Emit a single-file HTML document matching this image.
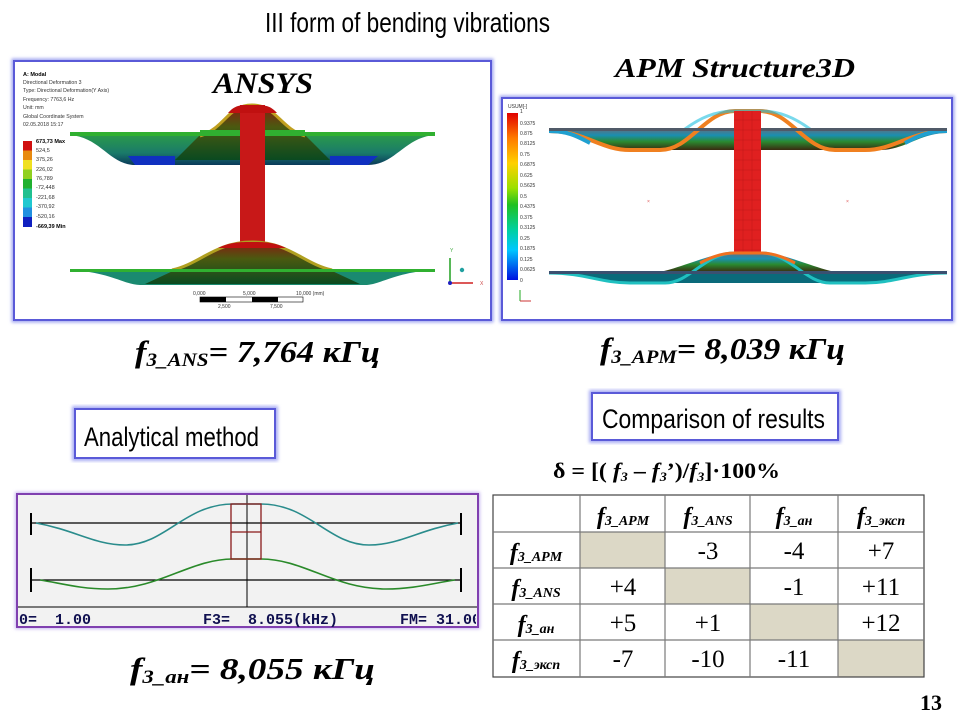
<!DOCTYPE html>
<html><head><meta charset="utf-8"><style>
html,body{margin:0;padding:0;background:#fff;}
svg{display:block;}
.s{font-family:"Liberation Serif",serif;}
.a{font-family:"Liberation Sans",sans-serif;}
.m{font-family:"Liberation Mono",monospace;font-weight:bold;}
</style></head><body>
<svg width="960" height="720" viewBox="0 0 960 720" xmlns="http://www.w3.org/2000/svg">
<defs>
<linearGradient id="apmleg" x1="0" y1="0" x2="0" y2="1">
<stop offset="0" stop-color="#e00000"/><stop offset="0.15" stop-color="#ff7a00"/><stop offset="0.3" stop-color="#ffd000"/><stop offset="0.45" stop-color="#9be000"/><stop offset="0.55" stop-color="#20c020"/><stop offset="0.7" stop-color="#00d0a0"/><stop offset="0.82" stop-color="#00c8ff"/><stop offset="1" stop-color="#0010e0"/></linearGradient>
<linearGradient id="plateG" x1="0" y1="0" x2="0" y2="1"><stop offset="0" stop-color="#2a9a4a"/><stop offset="0.6" stop-color="#1a7a6a"/><stop offset="1" stop-color="#0a3a5a"/></linearGradient>
<linearGradient id="humpG" x1="0" y1="0" x2="0" y2="1"><stop offset="0" stop-color="#8a1a10"/><stop offset="0.4" stop-color="#4a5a10"/><stop offset="1" stop-color="#0a4a20"/></linearGradient>
<linearGradient id="apmPl" x1="0" y1="0" x2="0" y2="1"><stop offset="0" stop-color="#607080"/><stop offset="0.3" stop-color="#1a8fb0"/><stop offset="0.6" stop-color="#2a8a30"/><stop offset="1" stop-color="#3a2a10"/></linearGradient>
<filter id="glow"><feGaussianBlur stdDeviation="1.5"/></filter>
</defs>

<!-- Title -->
<text x="265" y="32" class="a" font-size="28" textLength="285" lengthAdjust="spacingAndGlyphs" fill="#000">III form of bending vibrations</text>

<!-- ANSYS panel -->
<rect x="14" y="61" width="477" height="259" fill="#fff" stroke="#9fa4f0" stroke-width="5" filter="url(#glow)"/>
<rect x="14" y="61" width="477" height="259" fill="#fff" stroke="#5a5ad8" stroke-width="2"/>
<text x="23" y="76" class="a" font-size="5.5" font-weight="bold">A: Modal</text>
<text class="a" font-size="5.2" fill="#333"><tspan x="23" y="84">Directional Deformation 3</tspan><tspan x="23" y="92">Type: Directional Deformation(Y Axis)</tspan><tspan x="23" y="101">Frequency: 7763,6 Hz</tspan><tspan x="23" y="109">Unit: mm</tspan><tspan x="23" y="118">Global Coordinate System</tspan><tspan x="23" y="126">02.05.2018 15:17</tspan></text>
<g>
<rect x="23" y="141" width="9" height="9.5" fill="#d01010"/><rect x="23" y="150.5" width="9" height="9.5" fill="#e88a10"/><rect x="23" y="160" width="9" height="9.5" fill="#f0e020"/><rect x="23" y="169.5" width="9" height="9.5" fill="#90d020"/><rect x="23" y="179" width="9" height="9.5" fill="#20b030"/><rect x="23" y="188.5" width="9" height="9.5" fill="#20c090"/><rect x="23" y="198" width="9" height="9.5" fill="#20c8d0"/><rect x="23" y="207.5" width="9" height="9.5" fill="#2090e0"/><rect x="23" y="217" width="9" height="10" fill="#1020c0"/>
</g>
<text class="a" font-size="5.5" fill="#333"><tspan x="36" y="143" font-weight="bold" fill="#000">673,73 Max</tspan><tspan x="36" y="152">524,5</tspan><tspan x="36" y="161">375,26</tspan><tspan x="36" y="171">226,02</tspan><tspan x="36" y="180">76,789</tspan><tspan x="36" y="189">-72,448</tspan><tspan x="36" y="199">-221,68</tspan><tspan x="36" y="208">-370,92</tspan><tspan x="36" y="218">-520,16</tspan><tspan x="36" y="228" font-weight="bold" fill="#000">-669,39 Min</tspan></text>
<text x="213" y="93" class="s" font-size="30" font-weight="bold" font-style="italic" textLength="100" lengthAdjust="spacingAndGlyphs">ANSYS</text>
<!-- upper plate -->
<path d="M70,135 C100,137 110,165 135,165 L200,165 L300,165 L368,165 C395,165 405,137 435,135 Z" fill="url(#plateG)"/>
<path d="M128,156 L175,156 L175,165 L135,165 Z" fill="#1030c0"/><path d="M330,156 L378,156 L368,165 L330,165Z" fill="#1030c0"/>
<path d="M200,135 C225,130 228,105 252,105 C276,105 280,130 305,135 L330,160 L175,160 Z" fill="url(#humpG)"/>
<path d="M200,136 C225,128 228,105 252,105 C276,105 280,128 305,136" fill="none" stroke="#c0a020" stroke-width="3"/>
<rect x="70" y="132" width="365" height="4" fill="#30b030"/>
<path d="M200,132 L305,132" stroke="#30b030" stroke-width="4"/>
<rect x="240" y="105" width="25" height="140" fill="#c81818"/>
<path d="M228,113 C235,105 240,105 252,105 C264,105 270,105 277,113 Z" fill="#c01010"/>
<!-- lower plate -->
<path d="M70,270 C110,272 125,285 140,285 L365,285 C380,285 395,272 435,270 Z" fill="#1a8a70"/>
<path d="M175,270 C200,265 215,242 252,242 C289,242 304,265 330,270 L360,284 L145,284 Z" fill="url(#humpG)"/>
<path d="M172,270 C200,264 215,242 252,242 C289,242 304,264 332,270" fill="none" stroke="#b0a020" stroke-width="3"/>
<path d="M218,248 C230,242 240,242 252,242 C264,242 274,242 286,248 Z" fill="#c01010"/>
<rect x="70" y="269" width="365" height="3" fill="#30b030"/>
<!-- scale bar -->
<text class="a" font-size="5" fill="#333"><tspan x="193" y="295">0,000</tspan><tspan x="243" y="295">5,000</tspan><tspan x="296" y="295">10,000 (mm)</tspan><tspan x="218" y="308">2,500</tspan><tspan x="270" y="308">7,500</tspan></text>
<rect x="200" y="297" width="103" height="5" fill="#fff" stroke="#000" stroke-width="0.6"/>
<rect x="200" y="297" width="26" height="5" fill="#000"/><rect x="252" y="297" width="26" height="5" fill="#000"/>
<!-- triad -->
<line x1="450" y1="283" x2="450" y2="258" stroke="#20a020" stroke-width="1.5"/><line x1="450" y1="283" x2="473" y2="283" stroke="#d02020" stroke-width="1.5"/>
<circle cx="450" cy="283" r="2" fill="#2020c0"/><circle cx="462" cy="270" r="2.2" fill="#20a0a0"/>
<text x="450" y="252" class="a" font-size="5" fill="#4a4">Y</text><text x="480" y="285" class="a" font-size="5" fill="#c44">X</text>

<!-- APM title -->
<text x="615" y="77" class="s" font-size="27" font-weight="bold" font-style="italic" textLength="240" lengthAdjust="spacingAndGlyphs">APM Structure3D</text>
<!-- APM panel -->
<rect x="502" y="98" width="450" height="222" fill="#fff" stroke="#9fa4f0" stroke-width="5" filter="url(#glow)"/>
<rect x="502" y="98" width="450" height="222" fill="#fff" stroke="#5a5ad8" stroke-width="2"/>
<text x="508" y="108" class="a" font-size="5" fill="#333">USUM[-]</text>
<rect x="507" y="113" width="11" height="167" fill="url(#apmleg)"/>
<text class="a" font-size="5" fill="#333"><tspan x="520" y="113">1</tspan><tspan x="520" y="125">0.9375</tspan><tspan x="520" y="135">0.875</tspan><tspan x="520" y="145">0.8125</tspan><tspan x="520" y="156">0.75</tspan><tspan x="520" y="166">0.6875</tspan><tspan x="520" y="177">0.625</tspan><tspan x="520" y="187">0.5625</tspan><tspan x="520" y="198">0.5</tspan><tspan x="520" y="208">0.4375</tspan><tspan x="520" y="219">0.375</tspan><tspan x="520" y="229">0.3125</tspan><tspan x="520" y="240">0.25</tspan><tspan x="520" y="250">0.1875</tspan><tspan x="520" y="261">0.125</tspan><tspan x="520" y="271">0.0625</tspan><tspan x="520" y="282">0</tspan></text>
<line x1="520" y1="301" x2="520" y2="290" stroke="#2a2" stroke-width="1"/><line x1="520" y1="301" x2="531" y2="301" stroke="#c33" stroke-width="1"/>
<!-- APM upper plate -->
<path d="M549,129 L947,129 L947,133 C920,133 905,150 880,150 L630,150 C600,150 585,133 549,133 Z" fill="url(#apmPl)"/>
<path d="M549,131 C585,131 600,150 630,150 L660,150 C690,150 705,111 735,111 L760,111 C790,111 805,150 835,150 L865,150 C895,150 910,131 947,131" fill="none" stroke="#f08020" stroke-width="4"/>
<path d="M549,131 C570,131 580,138 590,143" fill="none" stroke="#20a0d0" stroke-width="4"/><path d="M905,143 C915,138 925,131 947,131" fill="none" stroke="#20a0d0" stroke-width="4"/>
<path d="M685,129 C700,118 715,111 735,111 L760,111 C780,111 795,118 810,129" fill="none" stroke="#20c0e0" stroke-width="3" opacity="0.6"/>
<rect x="549" y="128" width="398" height="3" fill="#505a68"/>
<rect x="734" y="111" width="27" height="145" fill="#e02020"/>
<g stroke="#a01010" stroke-width="0.4" opacity="0.6">
<path d="M743,111V256M752,111V256M734,120H761M734,130H761M734,140H761M734,150H761M734,160H761M734,170H761M734,180H761M734,190H761M734,200H761M734,210H761M734,220H761M734,230H761M734,240H761M734,250H761"/></g>
<rect x="734" y="256" width="27" height="16" fill="#909090"/>
<!-- APM lower plate -->
<path d="M549,272 L947,272 L947,274 C910,274 895,283 865,283 L630,283 C600,283 585,274 549,274 Z" fill="#0a6a7a"/>
<path d="M660,272 C690,265 710,253 734,253 L761,253 C785,253 805,265 835,272 Z" fill="url(#apmPl)"/>
<path d="M549,273 C585,273 600,283 630,283 L665,283 C690,283 705,253 734,253 L761,253 C790,253 805,283 830,283 L865,283 C895,283 910,273 947,273" fill="none" stroke="#20c0c0" stroke-width="3"/>
<path d="M700,263 C715,255 725,253 734,253 L761,253 C770,253 780,255 795,263" fill="none" stroke="#f07020" stroke-width="3"/>
<rect x="549" y="271" width="398" height="3" fill="#3a5070"/>
<text x="647" y="203" font-size="5" fill="#d55" class="a">×</text><text x="846" y="203" font-size="5" fill="#d55" class="a">×</text>

<!-- frequencies -->
<text x="135" y="362" class="s" font-size="31" font-weight="bold" font-style="italic" textLength="245" lengthAdjust="spacingAndGlyphs">f<tspan font-size="19" dy="4">3_ANS</tspan><tspan dy="-4">= 7,764 кГц</tspan></text>
<text x="600" y="359" class="s" font-size="31" font-weight="bold" font-style="italic" textLength="245" lengthAdjust="spacingAndGlyphs">f<tspan font-size="19" dy="4">3_APM</tspan><tspan dy="-4">= 8,039 кГц</tspan></text>

<!-- label boxes -->
<rect x="75" y="409" width="200" height="49" fill="#fff" stroke="#a8acf4" stroke-width="6" filter="url(#glow)"/>
<rect x="75" y="409" width="200" height="49" fill="#fff" stroke="#5a5ad8" stroke-width="2"/>
<text x="84" y="446" class="a" font-size="27" textLength="175" lengthAdjust="spacingAndGlyphs">Analytical method</text>
<rect x="592" y="393" width="246" height="47" fill="#fff" stroke="#a8acf4" stroke-width="6" filter="url(#glow)"/>
<rect x="592" y="393" width="246" height="47" fill="#fff" stroke="#5a5ad8" stroke-width="2"/>
<text x="602" y="428" class="a" font-size="27" textLength="223" lengthAdjust="spacingAndGlyphs">Comparison of results</text>

<!-- formula -->
<text x="553" y="478" class="s" font-size="22" font-weight="bold" textLength="227" lengthAdjust="spacingAndGlyphs">δ = [( <tspan font-style="italic">f<tspan font-size="13" dy="3">3</tspan></tspan><tspan dy="-3"> – </tspan><tspan font-style="italic">f<tspan font-size="13" dy="3">3</tspan></tspan><tspan dy="-3">’)/</tspan><tspan font-style="italic">f<tspan font-size="13" dy="3">3</tspan></tspan><tspan dy="-3">]·100%</tspan></text>

<!-- table -->
<g fill="#dcd8c6">
<rect x="580" y="532" width="85" height="36"/><rect x="665" y="568" width="85" height="36"/><rect x="750" y="604" width="88" height="36"/><rect x="838" y="640" width="86" height="37"/></g>
<g stroke="#7a7a7a" stroke-width="1.2" fill="none">
<rect x="493" y="495" width="431" height="182" stroke="#444"/>
<path d="M493,532H924M493,568H924M493,604H924M493,640H924M580,495V677M665,495V677M750,495V677M838,495V677"/>
</g>
<g class="s" font-weight="bold" font-style="italic" font-size="24" text-anchor="middle">
<text x="623" y="524">f<tspan font-size="14" dy="1">3_APM</tspan></text>
<text x="708" y="524">f<tspan font-size="14" dy="1">3_ANS</tspan></text>
<text x="794" y="524">f<tspan font-size="14" dy="1">3_ан</tspan></text>
<text x="881" y="524">f<tspan font-size="14" dy="1">3_эксп</tspan></text>
<text x="536" y="560">f<tspan font-size="14" dy="1">3_APM</tspan></text>
<text x="536" y="596">f<tspan font-size="14" dy="1">3_ANS</tspan></text>
<text x="536" y="632">f<tspan font-size="14" dy="1">3_ан</tspan></text>
<text x="536" y="668">f<tspan font-size="14" dy="1">3_эксп</tspan></text>
</g>
<g class="s" font-size="25" text-anchor="middle">
<text x="708" y="559">-3</text><text x="794" y="559">-4</text><text x="881" y="559">+7</text>
<text x="623" y="595">+4</text><text x="794" y="595">-1</text><text x="881" y="595">+11</text>
<text x="623" y="631">+5</text><text x="708" y="631">+1</text><text x="881" y="631">+12</text>
<text x="623" y="667">-7</text><text x="708" y="667">-10</text><text x="794" y="667">-11</text>
</g>

<!-- analytical panel -->
<rect x="17" y="494" width="461" height="133" fill="#f2f2f2" stroke="#c8b8f0" stroke-width="4" filter="url(#glow)"/>
<rect x="17" y="494" width="461" height="133" fill="#f2f2f2" stroke="#8040b0" stroke-width="2"/>
<line x1="18" y1="607" x2="477" y2="607" stroke="#000" stroke-width="1"/>
<line x1="247" y1="495" x2="247" y2="607" stroke="#000" stroke-width="1"/>
<g stroke="#000" stroke-width="1.2">
<line x1="31" y1="523" x2="461" y2="523"/><line x1="31" y1="513" x2="31" y2="535" stroke-width="2"/><line x1="461" y1="513" x2="461" y2="535" stroke-width="2"/>
<line x1="31" y1="580" x2="461" y2="580"/><line x1="31" y1="568" x2="31" y2="592" stroke-width="2"/><line x1="461" y1="568" x2="461" y2="592" stroke-width="2"/>
</g>
<path d="M36,523 C75,530 95,545 125,545 C165,545 185,504 233,504 L261,504 C309,504 329,545 369,545 C399,545 419,530 458,523" fill="none" stroke="#2a8c8c" stroke-width="1.6"/>
<path d="M40,580 C60,583 80,589 108,589 C160,589 190,559 233,559 L261,559 C304,559 334,589 386,589 C414,589 434,583 455,580" fill="none" stroke="#2a8a2a" stroke-width="1.6"/>
<g fill="none" stroke="#8a1a1a" stroke-width="1.3"><rect x="231" y="504" width="30" height="55"/><line x1="231" y1="532" x2="261" y2="532"/></g>
<svg x="17" y="607" width="459" height="20"><text y="17" class="m" font-size="15" fill="#101050" xml:space="preserve"><tspan x="2">0=  1.00</tspan><tspan x="186">F3=  8.055(kHz)</tspan><tspan x="383">FM= 31.00</tspan></text></svg>

<text x="130" y="679" class="s" font-size="31" font-weight="bold" font-style="italic" textLength="245" lengthAdjust="spacingAndGlyphs">f<tspan font-size="19" dy="4">3_ан</tspan><tspan dy="-4">= 8,055 кГц</tspan></text>

<text x="920" y="710" class="s" font-size="22" font-weight="bold">13</text>
</svg>
</body></html>
